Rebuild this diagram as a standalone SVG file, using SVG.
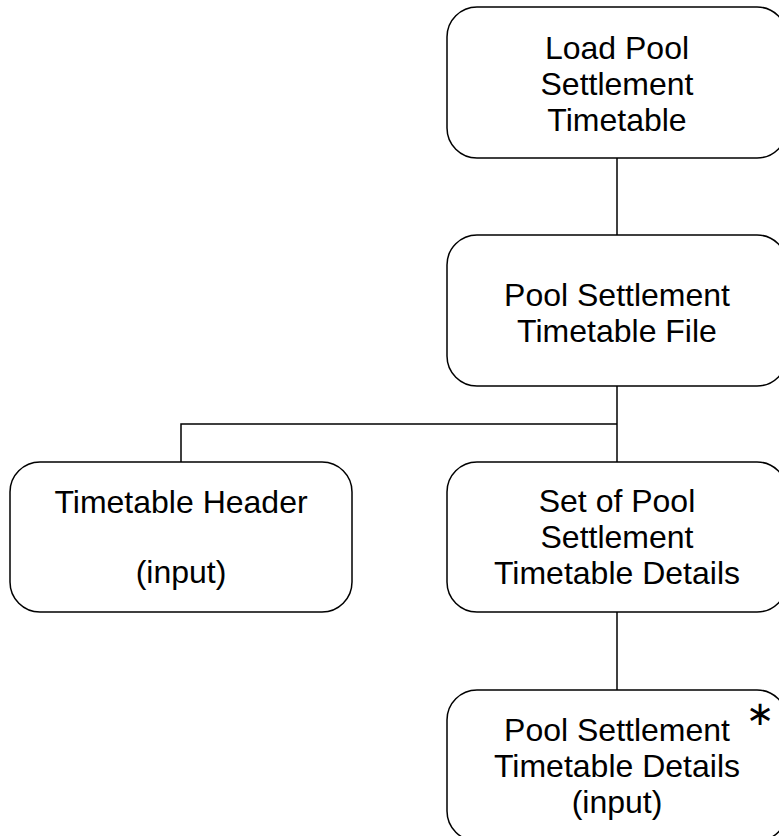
<svg xmlns="http://www.w3.org/2000/svg" width="779" height="836" viewBox="0 0 779 836">
<style>
.box{fill:#fff;stroke:#000;stroke-width:1.5}
.t{font-family:"Liberation Sans",Arial,sans-serif;font-size:32px;fill:#000;text-anchor:middle}
.c{fill:none;stroke:#000;stroke-width:1.5}
.star{font-family:"DejaVu Sans",sans-serif;font-size:34px;fill:#000;text-anchor:middle}
</style>
<rect width="779" height="836" fill="#fff"/>
<g id="connectors">
<line class="c" x1="617" y1="158" x2="617" y2="235"/>
<line class="c" x1="617" y1="386" x2="617" y2="462"/>
<polyline class="c" points="181,462 181,424 617,424"/>
<line class="c" x1="617" y1="612" x2="617" y2="690"/>
</g>
<g id="n1">
<rect class="box" x="447" y="7" width="340" height="151" rx="30"/>
<text class="t" x="617" y="59">Load Pool</text>
<text class="t" x="617" y="95">Settlement</text>
<text class="t" x="617" y="131">Timetable</text>
</g>
<g id="n2">
<rect class="box" x="447" y="235" width="340" height="151" rx="30"/>
<text class="t" x="617" y="306">Pool Settlement</text>
<text class="t" x="617" y="342">Timetable File</text>
</g>
<g id="n3">
<rect class="box" x="10" y="462" width="342" height="150" rx="30"/>
<text class="t" x="181" y="513">Timetable Header</text>
<text class="t" x="181" y="583">(input)</text>
</g>
<g id="n4">
<rect class="box" x="447" y="462" width="340" height="150" rx="30"/>
<text class="t" x="617" y="512">Set of Pool</text>
<text class="t" x="617" y="548">Settlement</text>
<text class="t" x="617" y="584">Timetable Details</text>
</g>
<g id="n5">
<rect class="box" x="447" y="690" width="340" height="151" rx="30"/>
<text class="t" x="617" y="741">Pool Settlement</text>
<text class="t" x="617" y="777">Timetable Details</text>
<text class="t" x="617" y="813">(input)</text>
<text class="star" x="760" y="725">∗</text>
</g>
</svg>
